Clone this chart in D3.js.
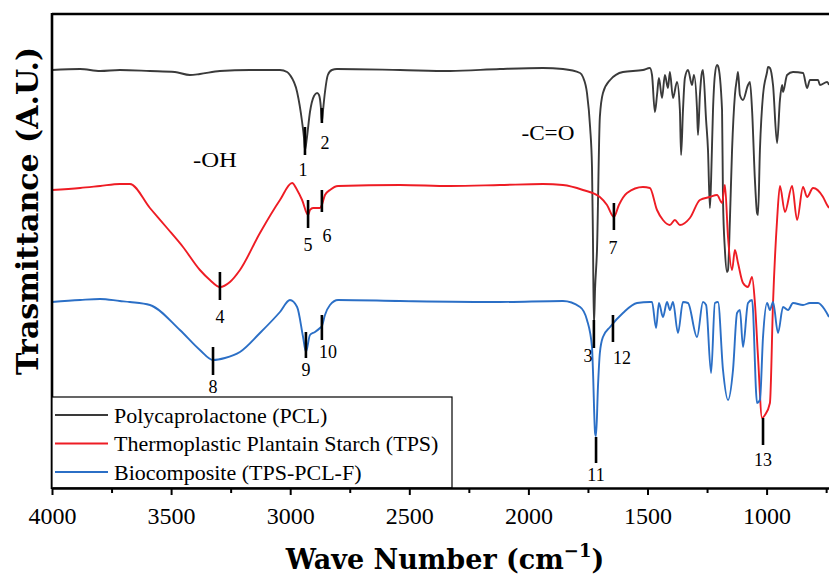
<!DOCTYPE html>
<html>
<head>
<meta charset="utf-8">
<script src="https://cdn.jsdelivr.net/npm/d3@7"></script>
<style>
  body { margin: 0; background: #fff; }
  svg { display: block; }
</style>
</head>
<body>
<script>
// FTIR spectra, wave number (cm-1) vs transmittance (arbitrary units, curves stacked)

// Polycaprolactone (PCL)
var pclWave = [4000, 3882, 3798, 3715, 3589, 3484, 3421, 3379, 3295, 3169, 3043, 3013, 3001, 2971, 2950, 2942, 2938,
  2930, 2917, 2900, 2887, 2879, 2871, 2867, 2862, 2854, 2842, 2825, 2804, 2539, 2329, 2119, 1939, 1855, 1783, 1771,
  1754, 1741, 1733, 1729, 1725, 1720, 1712, 1700, 1687, 1657, 1603, 1519, 1490, 1481, 1469, 1460, 1452, 1439, 1427,
  1414, 1406, 1393, 1376, 1364, 1359, 1351, 1343, 1330, 1313, 1305, 1292, 1288, 1280, 1271, 1267, 1254, 1246, 1238,
  1233, 1225, 1217, 1208, 1204, 1187, 1183, 1175, 1166, 1162, 1154, 1145, 1133, 1124, 1120, 1112, 1099, 1078, 1070,
  1061, 1049, 1040, 1036, 1028, 1015, 998, 994, 986, 973, 956, 944, 935, 931, 914, 889, 847, 830, 818, 784, 776, 746, 738];
var pclValue = [418, 419, 417, 418, 417, 416, 413, 414, 417, 418, 418, 416, 413, 396, 366, 350, 338,
  350, 376, 392, 395, 393, 380, 366, 378, 396, 413, 418, 419, 418, 417, 419, 420, 419, 415, 411,
  395, 361, 321, 250, 163, 200, 238, 371, 395, 408, 416, 418, 420, 413, 376, 393, 410, 390, 413,
  400, 416, 390, 406, 378, 333, 378, 410, 418, 403, 413, 378, 353, 393, 416, 418, 368, 338, 280,
  308, 378, 413, 423, 422, 378, 288, 238, 216, 218, 268, 338, 393, 410, 416, 393, 388, 403, 406,
  378, 308, 275, 273, 338, 393, 416, 421, 420, 403, 345, 388, 403, 396, 413, 416, 415, 400, 408, 408, 403, 406, 403];

// Thermoplastic plantain starch (TPS)
var tpsWave = [4000, 3882, 3798, 3715, 3673, 3589, 3517, 3450, 3379, 3337, 3295, 3253, 3211, 3127, 3043, 2992, 2971,
  2950, 2925, 2917, 2904, 2875, 2867, 2854, 2833, 2799, 2539, 2329, 2119, 1939, 1855, 1771, 1700, 1670, 1641, 1620,
  1586, 1519, 1490, 1460, 1435, 1406, 1385, 1364, 1322, 1280, 1238, 1208, 1187, 1175, 1162, 1145, 1133, 1120, 1099,
  1078, 1061, 1049, 1036, 1019, 1007, 986, 973, 956, 944, 923, 893, 872, 847, 830, 805, 763, 746, 738];
var tpsValue = [298, 300, 302, 304, 304, 280, 260, 241, 218, 208, 201, 206, 218, 255, 288, 305, 298,
  288, 273, 278, 280, 280, 283, 293, 298, 302, 303, 302, 303, 304, 303, 298, 291, 283, 271, 283,
  295, 301, 300, 278, 268, 263, 268, 263, 270, 288, 291, 293, 285, 303, 251, 218, 238, 225, 205,
  201, 211, 185, 131, 70, 73, 85, 185, 268, 302, 276, 302, 268, 301, 291, 300, 291, 283, 280];

// Biocomposite (TPS-PCL-F)
var bioWave = [4000, 3882, 3798, 3715, 3673, 3589, 3463, 3379, 3324, 3274, 3211, 3127, 3043, 3001, 2971, 2946, 2934,
  2917, 2896, 2875, 2867, 2854, 2833, 2799, 2539, 2119, 1855, 1783, 1754, 1733, 1729, 1720, 1716, 1708, 1700, 1687,
  1657, 1603, 1544, 1490, 1481, 1464, 1452, 1435, 1418, 1406, 1393, 1372, 1351, 1330, 1292, 1267, 1254, 1233, 1217,
  1204, 1183, 1162, 1141, 1124, 1112, 1099, 1078, 1061, 1040, 1028, 1015, 998, 986, 973, 952, 931, 910, 889, 847,
  818, 784, 755, 738];
var bioValue = [186, 188, 189, 187, 186, 183, 158, 138, 128, 130, 136, 155, 176, 188, 181, 151, 136,
  153, 156, 160, 162, 173, 183, 188, 187, 186, 187, 181, 168, 141, 118, 55, 52, 101, 135, 151,
  161, 175, 185, 186, 186, 160, 185, 171, 186, 178, 186, 155, 186, 185, 151, 186, 183, 115, 185,
  186, 118, 88, 118, 175, 178, 141, 185, 188, 85, 88, 151, 185, 178, 186, 155, 181, 178, 185, 183,
  185, 185, 178, 171];

// numbered peak markers: wave number, top and bottom of the tick (same units as the curves)
var peakLabels = ['1', '2', '3', '4', '5', '6', '7', '8', '9', '10', '11', '12', '13'];
var peakWave = [2938, 2867, 1725, 3295, 2925, 2867, 1641, 3324, 2934, 2867, 1716, 1645, 1015];
var peakTop = [361, 380, 168, 216, 288, 298, 285, 141, 156, 173, 51, 173, 70];
var peakBottom = [333, 365, 140, 188, 260, 276, 258, 113, 130, 148, 25, 146, 43];

var seriesNames = ['Polycaprolactone (PCL)', 'Thermoplastic Plantain Starch (TPS)', 'Biocomposite (TPS-PCL-F)'];
var majorTicks = [4000, 3500, 3000, 2500, 2000, 1500, 1000];
var minorTicks = [3750, 3250, 2750, 2250, 1750, 1250, 750];

var colors = ['#3a3a3a', '#ee1c24', '#2b6fc6'];
var serif = '"Liberation Serif", "Times New Roman", serif';

var svg = d3.select('body').append('svg')
  .attr('width', 829)
  .attr('height', 575);

var x = d3.scaleLinear().domain([4000, 738]).range([52, 829]);
var y = d3.scaleLinear().domain([0, 474]).range([488, 14]);

var series = [
  { name: seriesNames[0], data: d3.zip(pclWave, pclValue), color: colors[0] },
  { name: seriesNames[1], data: d3.zip(tpsWave, tpsValue), color: colors[1] },
  { name: seriesNames[2], data: d3.zip(bioWave, bioValue), color: colors[2] }
];

var line = d3.line()
  .curve(d3.curveMonotoneX)
  .x(function(d) { return x(d[0]); })
  .y(function(d) { return y(d[1]); });

svg.append('g')
  .selectAll('path')
  .data(series)
  .enter()
    .append('path')
      .attr('d', function(d) { return line(d.data); })
      .attr('fill', 'none')
      .attr('stroke', function(d) { return d.color; })
      .attr('stroke-width', 1.9)
      .attr('stroke-linejoin', 'round');

// peak markers
var nudge = { '2': [3, 20], '3': [-6, 8], '6': [5, 24], '10': [6, 12], '12': [9, 16],
  '4': [0, 17], '5': [0, 17], '7': [-1, 18], '8': [0, 12], '9': [0, 12], '11': [0, 12], '1': [-2, 15], '13': [0, 15] };

var peaks = peakLabels.map(function(l, i) {
  return { label: l, wave: peakWave[i], top: peakTop[i], bottom: peakBottom[i] };
});

var pk = svg.append('g').selectAll('g').data(peaks).enter().append('g');
pk.append('line')
  .attr('x1', function(d) { return x(d.wave); })
  .attr('x2', function(d) { return x(d.wave); })
  .attr('y1', function(d) { return y(d.top); })
  .attr('y2', function(d) { return y(d.bottom); })
  .attr('stroke', '#000')
  .attr('stroke-width', 2.6);
pk.append('text')
  .attr('x', function(d) { return x(d.wave) + nudge[d.label][0]; })
  .attr('y', function(d) { return y(d.bottom) + nudge[d.label][1]; })
  .attr('dy', '0.35em')
  .attr('text-anchor', 'middle')
  .style('font-family', serif)
  .style('font-size', '18px')
  .text(function(d) { return d.label; });

// group annotations
svg.append('text')
  .attr('x', x(3316)).attr('y', y(328)).attr('dy', '0.35em')
  .attr('text-anchor', 'middle')
  .attr('textLength', 44).attr('lengthAdjust', 'spacingAndGlyphs')
  .style('font-family', serif).style('font-size', '21px')
  .text('-OH');
svg.append('text')
  .attr('x', x(1918)).attr('y', y(355)).attr('dy', '0.35em')
  .attr('text-anchor', 'middle')
  .attr('textLength', 53).attr('lengthAdjust', 'spacingAndGlyphs')
  .style('font-family', serif).style('font-size', '21px')
  .text('-C=O');

// frame
svg.append('line').attr('x1', 52).attr('x2', 829).attr('y1', 14).attr('y2', 14)
  .attr('stroke', '#000').attr('stroke-width', 2.6);
svg.append('line').attr('x1', 52).attr('x2', 52).attr('y1', 13).attr('y2', 489)
  .attr('stroke', '#000').attr('stroke-width', 2.6);

// legend
var legend = svg.append('g').attr('class', 'legend');
legend.append('rect')
  .attr('x', 52).attr('y', 397).attr('width', 400).attr('height', 91)
  .attr('fill', '#fff').attr('stroke', '#000').attr('stroke-width', 1.2);
var rows = legend.selectAll('g.row').data(series).enter().append('g')
  .attr('class', 'row')
  .attr('transform', function(d, i) { return 'translate(0,' + (415 + i * 28.5) + ')'; });
rows.append('line')
  .attr('x1', 55).attr('x2', 108)
  .attr('stroke', function(d) { return d.color; })
  .attr('stroke-width', 2);
rows.append('text')
  .attr('x', 114).attr('dy', '0.35em')
  .style('font-family', serif).style('font-size', '22px')
  .text(function(d) { return d.name; });

// x axis
var xAxis = svg.append('g')
  .attr('transform', 'translate(0,488)')
  .call(d3.axisBottom(x).tickValues(majorTicks).tickSize(7).tickSizeOuter(0).tickPadding(12)
    .tickFormat(d3.format('d')));
xAxis.select('.domain').attr('stroke-width', 2.6);
xAxis.selectAll('.tick line').attr('stroke-width', 2);
xAxis.selectAll('.tick text')
  .style('font-family', serif).style('font-size', '24px').attr('fill', '#000');

var xMinor = svg.append('g')
  .attr('transform', 'translate(0,488)')
  .call(d3.axisBottom(x).tickValues(minorTicks).tickSize(5).tickSizeOuter(0).tickFormat(''));
xMinor.select('.domain').remove();
xMinor.selectAll('.tick line').attr('stroke-width', 2);

// axis titles
var xt = svg.append('text')
  .attr('x', 445).attr('y', 569)
  .attr('text-anchor', 'middle')
  .style('font-family', '"DejaVu Serif", serif').style('font-weight', 'bold').style('font-size', '27px');
xt.append('tspan').text('Wave Number (cm');
xt.append('tspan').attr('dy', -12).style('font-size', '18px').text('\u22121');
xt.append('tspan').attr('dy', 12).text(')');

svg.append('text')
  .attr('transform', 'translate(38,211) rotate(-90)')
  .attr('text-anchor', 'middle')
  .style('font-family', '"DejaVu Serif", serif').style('font-weight', 'bold').style('font-size', '30px')
  .text('Trasmittance (A.U.)');
</script>
</body>
</html>
